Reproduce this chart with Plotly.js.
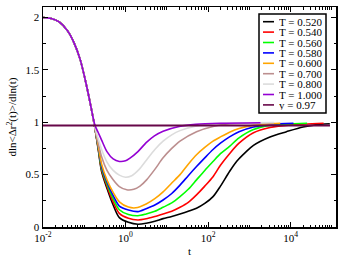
<!DOCTYPE html>
<html><head><meta charset="utf-8">
<script src="https://cdn.plot.ly/plotly-3.0.1.min.js"></script>
<style>html,body{margin:0;padding:0;background:#fff}#chart{width:352px;height:265px}</style>
</head><body><div id="chart"></div>
<script>
// shared short-time (ballistic) part, log10(t) and slope values
const commonLogT  = [-2.0, -1.8, -1.6, -1.4, -1.25, -1.1, -0.98, -0.86, -0.8];
const commonSlope = [2.0, 1.99, 1.955, 1.87, 1.76, 1.6, 1.41, 1.19, 1.07];

const seriesNames  = ['T = 0.520','T = 0.540','T = 0.560','T = 0.580','T = 0.600','T = 0.700','T = 0.800','T = 1.000'];
const seriesColors = ['#000000','#ff0000','#00ff00','#0000ff','#ffa500','#bc8f8f','#dcdcdc','#9400d3'];

const logT_052 = [-0.74,-0.66,-0.58,-0.45,-0.3,-0.15,0.07,0.3,0.5,0.71,0.91,1.12,1.32,1.52,1.72,1.92,2.12,2.3,2.52,2.7,2.9,3.1,3.5,3.9,4.3,4.6,4.95];
const val_052  = [0.94,0.735,0.53,0.37,0.21,0.09,0.045,0.026,0.035,0.055,0.08,0.1,0.124,0.15,0.179,0.225,0.29,0.39,0.53,0.63,0.71,0.78,0.86,0.91,0.955,0.975,0.985];
const logT_054 = [-0.74,-0.66,-0.58,-0.45,-0.3,-0.15,0.07,0.3,0.5,0.71,0.91,1.12,1.32,1.52,1.72,1.92,2.12,2.3,2.52,2.75,3.1,3.5,4.0,4.8];
const val_054  = [0.94,0.745,0.545,0.39,0.24,0.13,0.083,0.067,0.078,0.1,0.124,0.15,0.188,0.235,0.306,0.39,0.48,0.59,0.7,0.8,0.9,0.95,0.975,0.99];
const logT_056 = [-0.74,-0.66,-0.58,-0.45,-0.3,-0.15,0.07,0.3,0.5,0.71,0.91,1.12,1.32,1.52,1.72,1.92,2.12,2.3,2.52,2.75,3.1,3.5,4.4];
const val_056  = [0.94,0.75,0.56,0.41,0.27,0.165,0.12,0.107,0.124,0.15,0.188,0.23,0.29,0.36,0.45,0.54,0.625,0.7,0.77,0.85,0.93,0.97,0.99];
const logT_058 = [-0.74,-0.66,-0.58,-0.45,-0.3,-0.15,0.07,0.3,0.5,0.71,0.91,1.12,1.32,1.52,1.72,1.92,2.12,2.3,2.52,2.75,3.1,3.5,4.07];
const val_058  = [0.94,0.76,0.58,0.43,0.3,0.2,0.163,0.147,0.175,0.21,0.258,0.32,0.4,0.49,0.577,0.66,0.74,0.8,0.86,0.91,0.955,0.98,0.99];
const logT_060 = [-0.74,-0.66,-0.58,-0.45,-0.3,-0.15,0.07,0.25,0.5,0.71,0.91,1.12,1.32,1.52,1.72,1.92,2.12,2.3,2.52,2.75,3.1,3.75];
const val_060  = [0.94,0.77,0.6,0.45,0.33,0.24,0.19,0.183,0.22,0.27,0.335,0.42,0.5,0.6,0.69,0.76,0.82,0.86,0.905,0.94,0.97,0.99];
const logT_070 = [-0.74,-0.66,-0.58,-0.45,-0.3,-0.15,0.03,0.2,0.35,0.51,0.71,0.91,1.12,1.32,1.72,2.12,2.52,3.6];
const val_070  = [0.94,0.8,0.67,0.54,0.45,0.385,0.355,0.36,0.39,0.45,0.55,0.66,0.75,0.82,0.91,0.96,0.985,0.995];
const logT_080 = [-0.74,-0.66,-0.58,-0.45,-0.3,-0.15,0.0,0.15,0.33,0.51,0.71,0.91,1.12,1.32,1.72,2.12,3.0,3.6];
const val_080  = [0.95,0.84,0.74,0.62,0.54,0.495,0.475,0.49,0.55,0.64,0.74,0.82,0.88,0.92,0.965,0.985,0.995,0.997];
const logT_100 = [-0.74,-0.66,-0.58,-0.45,-0.3,-0.15,0.0,0.1,0.3,0.5,0.7,0.91,1.3,1.7,2.3,3.27];
const val_100  = [0.97,0.9,0.83,0.72,0.65,0.626,0.632,0.655,0.72,0.805,0.87,0.915,0.96,0.98,0.99,0.995];

const refLineT = [1e-2, 9e4];
const refLineY = [0.97, 0.97];
const refLineName = 'y = 0.97';
const refLineColor = '#670748';

const xTickVals = [1e-2, 1, 1e2, 1e4];
const xTickText = ['10<sup>-2</sup>','10<sup>0</sup>','10<sup>2</sup>','10<sup>4</sup>'];
const yTickVals = [0, 0.5, 1, 1.5, 2];
const yTickText = ['0','0.5','1','1.5','2'];

const allLogT = [logT_052, logT_054, logT_056, logT_058, logT_060, logT_070, logT_080, logT_100];
const allVal  = [val_052, val_054, val_056, val_058, val_060, val_070, val_080, val_100];

const FONT = 'Liberation Serif, Times New Roman, serif';
const W = 352, H = 265, M = {l:43, r:16, t:7, b:38};
const PW = W - M.l - M.r, PH = H - M.t - M.b;
const px2x = p => (p - M.l) / PW;
const px2y = p => (H - M.b - p) / PH;

const traces = allLogT.map((lt, i) => ({
  type: 'scatter', mode: 'lines',
  x: commonLogT.concat(lt).map(v => Math.pow(10, v)),
  y: commonSlope.concat(allVal[i]),
  name: seriesNames[i],
  line: {color: seriesColors[i], width: 1.6, shape: 'spline', smoothing: 0.8},
  showlegend: false, hoverinfo: 'skip'
}));
traces.push({
  type: 'scatter', mode: 'lines', x: refLineT, y: refLineY, name: refLineName,
  line: {color: refLineColor, width: 2}, showlegend: false, hoverinfo: 'skip'
});

// minor ticks
const xMinor = [];
for (let d = -2; d <= 5; d++) for (let k = 2; k <= 9; k++) xMinor.push(k * Math.pow(10, d));
for (let d = -1; d <= 5; d += 2) xMinor.push(Math.pow(10, d));

// manual legend
const legNames = seriesNames.concat([refLineName]);
const legColors = seriesColors.concat([refLineColor]);
const shapes = [{type:'rect', xref:'paper', yref:'paper', x0:px2x(259), x1:px2x(326), y0:px2y(113), y1:px2y(14),
  line:{color:'#000', width:1.5}, fillcolor:'#fff', layer:'above'}];
const annotations = [];
legNames.forEach((n, i) => {
  const py = 21.7 + i * 10.4;
  shapes.push({type:'line', xref:'paper', yref:'paper', x0:px2x(263), x1:px2x(274), y0:px2y(py), y1:px2y(py),
    line:{color:legColors[i], width:1.6}, layer:'above'});
  annotations.push({xref:'paper', yref:'paper', x:px2x(278), y:px2y(py), xanchor:'left', yanchor:'middle',
    text:n, showarrow:false, height:10, borderpad:0, font:{family:FONT, size:11, color:'#000'}});
});

const layout = {
  width: W, height: H, margin: M, paper_bgcolor:'#fff', plot_bgcolor:'#fff',
  showlegend: false,
  font: {family: FONT, size: 11, color: '#000'},
  xaxis: {
    type: 'log', range: [-2, 5.1], showgrid: false, zeroline: false,
    showline: true, linecolor: '#000', linewidth: 1.5, mirror: 'ticks',
    ticks: 'inside', ticklen: 5, tickwidth: 1, tickcolor: '#000',
    tickmode: 'array', tickvals: xTickVals, ticktext: xTickText,
    tickfont: {family: FONT, size: 11},
    minor: {tickmode: 'array', tickvals: xMinor, ticks: 'inside', ticklen: 2.5, tickwidth: 1, tickcolor: '#000'},
    title: {text: 't', font: {family: FONT, size: 11}, standoff: 4}
  },
  yaxis: {
    range: [0, 2.1], showgrid: false, zeroline: false,
    showline: true, linecolor: '#000', linewidth: 1.5, mirror: 'ticks',
    ticks: 'inside', ticklen: 5, tickwidth: 1, tickcolor: '#000',
    tickmode: 'array', tickvals: yTickVals, ticktext: yTickText,
    tickfont: {family: FONT, size: 11},
    minor: {tickmode: 'linear', tick0: 0.25, dtick: 0.5, ticks: 'inside', ticklen: 2.5, tickwidth: 1, tickcolor: '#000'},
    title: {text: 'dln&lt;Δr<sup>2</sup>(t)&gt;/dln(t)', font: {family: FONT, size: 11}, standoff: 6}
  },
  shapes: shapes,
  annotations: annotations
};

Plotly.newPlot('chart', traces, layout, {displayModeBar: false, staticPlot: true});
</script></body></html>
